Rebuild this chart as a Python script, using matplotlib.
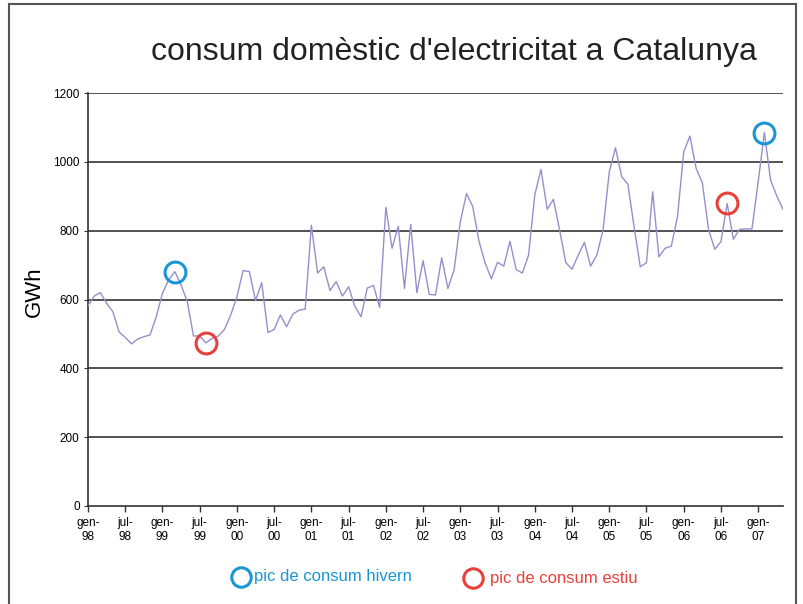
import matplotlib
matplotlib.use("Agg")
import matplotlib.pyplot as plt
from matplotlib.lines import Line2D

plt.rcParams['font.family'] = ['Liberation Sans', 'DejaVu Sans']

# Monthly domestic electricity consumption (GWh), Jan 1998 - May 2007
values = [
    582, 610, 620, 589, 565, 506, 490, 471, 485, 492, 497, 550,
    618, 657, 681, 642, 594, 494, 494, 474, 487, 494, 513, 555,
    608, 684, 681, 597, 649, 504, 513, 555, 521, 557, 569, 572,
    816, 677, 695, 626, 652, 610, 637, 580, 550, 633, 641, 577,
    868, 749, 813, 632, 818, 620, 713, 615, 613, 721, 632, 686,
    826, 908, 870, 770, 706, 660, 708, 697, 769, 687, 677, 729,
    904, 978, 862, 891, 802, 707, 688, 729, 766, 697, 729, 802,
    970, 1041, 957, 935, 811, 695, 707, 913, 724, 749, 755, 841,
    1029, 1075, 981, 939, 804, 746, 768, 879, 775, 804, 805, 805,
    942, 1085, 947, 901, 862,
]
tick_labels = ["gen-\n98", "jul-\n98", "gen-\n99", "jul-\n99", "gen-\n00", "jul-\n00",
               "gen-\n01", "jul-\n01", "gen-\n02", "jul-\n02", "gen-\n03", "jul-\n03",
               "gen-\n04", "jul-\n04", "gen-\n05", "jul-\n05", "gen-\n06", "jul-\n06",
               "gen-\n07"]
winter_peaks = [14, 109]
summer_peaks = [19, 103]
y_ticks = [0, 200, 400, 600, 800, 1000, 1200]

blue = '#1a96d4'
red = '#e8403a'
line_col = '#968fcc'

fig = plt.figure(figsize=(8.04, 6.04), dpi=100)
ax = fig.add_axes([88/804, 1-506/604, (783-88)/804, (506-93)/604])

x = list(range(len(values)))
for yv in y_ticks[1:]:
    ax.axhline(yv, color='#333333', lw=1.2, zorder=1)
ax.plot(x, values, color=line_col, lw=1.0, zorder=3)

ax.plot([winter_peaks[0], winter_peaks[1]], [values[i] for i in winter_peaks], ls='none',
        marker='o', ms=15, mfc='none', mec=blue, mew=2.2, zorder=4)
ax.plot([summer_peaks[0], summer_peaks[1]], [values[i] for i in summer_peaks], ls='none',
        marker='o', ms=15, mfc='none', mec=red, mew=2.2, zorder=4)

ax.set_xlim(0, 112)
ax.set_ylim(0, 1200)
ax.set_yticks(y_ticks)
ax.set_yticklabels([str(v) for v in y_ticks], fontsize=8.5)
ax.set_xticks(list(range(0, 6*len(tick_labels), 6)))
ax.set_xticklabels(tick_labels, fontsize=8.5, linespacing=1.25)
ax.tick_params(axis='x', direction='out', length=4, width=1, pad=4, color='#333333')
ax.tick_params(axis='y', direction='out', length=3, width=0.8, pad=3, color='#333333')
for s in ['top', 'right']:
    ax.spines[s].set_visible(False)
for s in ['left', 'bottom']:
    ax.spines[s].set_color('#333333')
    ax.spines[s].set_linewidth(1.2)

fig.text(34/804, 1-292/604, 'GWh', fontsize=16, rotation=90, ha='center', va='center')

fig.text(454/804, 1-60/604, "consum domèstic d'electricitat a Catalunya",
         fontsize=23, ha='center', va='baseline', color='#222222')

# legend
fig.add_artist(Line2D([241/804], [1-577/604], marker='o', ms=14, mfc='none', mec=blue,
                      mew=2.2, transform=fig.transFigure))
fig.text(254/804, 1-577/604, "pic de consum hivern", color=blue, fontsize=12,
         ha='left', va='center')
fig.add_artist(Line2D([473/804], [1-578/604], marker='o', ms=14, mfc='none', mec=red,
                      mew=2.2, transform=fig.transFigure))
fig.text(490/804, 1-578/604, "pic de consum estiu", color=red, fontsize=12,
         ha='left', va='center')

# frame
fr = '#555555'
fig.add_artist(Line2D([9/804, 9/804], [0, 1-4/604], color=fr, lw=1.5, transform=fig.transFigure))
fig.add_artist(Line2D([9/804, 796/804], [1-4/604, 1-4/604], color=fr, lw=1.5, transform=fig.transFigure))
fig.add_artist(Line2D([796/804, 796/804], [0, 1-4/604], color=fr, lw=1.5, transform=fig.transFigure))

fig.savefig('out.png', dpi=100)
